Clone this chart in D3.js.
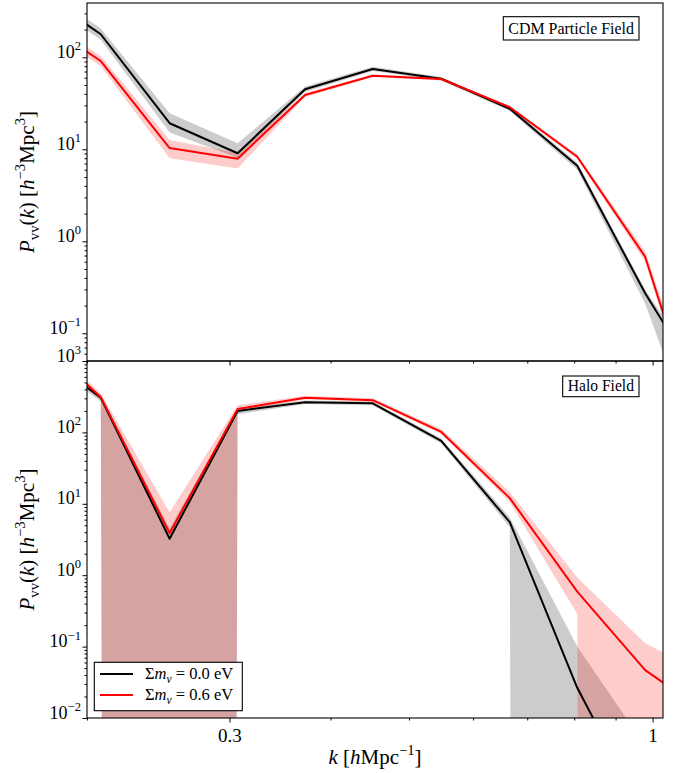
<!DOCTYPE html>
<html>
<head>
<meta charset="utf-8">
<script src="https://cdn.jsdelivr.net/npm/d3@7"></script>
<style>
  body { margin: 0; background: #fff; }
  svg { font-family: "Liberation Serif", "DejaVu Serif", serif; }
</style>
</head>
<body>
<div id="chart"></div>
<script>
// k bins (h/Mpc), shared by both panels
var kVals = [0.171, 0.208, 0.253, 0.307, 0.372, 0.451, 0.548, 0.666, 0.807, 0.979, 1.19];

// CDM particle field
var cdmNu00 = [585, 178, 19.2, 9.06, 44.9, 74.6, 58.5, 27.6, 6.63, 0.272, 0.0169];
var cdmNu00Lo = [510, 155, 15.2, 8.1, 42, 71, 56, 26, 6.0, 0.21, 0.0019];
var cdmNu00Hi = [670, 205, 24.6, 11.6, 48, 79, 61, 29, 7.2, 0.30, 0.023];
var cdmNu06 = [290, 91.1, 10.3, 7.9, 38.9, 63, 58, 28.6, 8.3, 0.68, 0.0032];
var cdmNu06Lo = [250, 80, 8.0, 6.2, 37, 61, 56, 27.5, 7.9, 0.60, 0.0025];
var cdmNu06Hi = [335, 103, 12.6, 9.1, 41, 65, 60, 29.7, 8.8, 0.78, 0.0045];

// halo field (0 = lower error below zero)
var haloNu00 = [1590, 305, 3.24, 200, 265, 255, 76, 5.53, 0.0265, 0.0004, 0.0001];
var haloNu00Lo = [1400, 270, 0, 180, 250, 240, 70, 4.7, 0, 0, 0];
var haloNu00Hi = [1800, 340, 4.5, 215, 280, 270, 82, 6.5, 0.1, 0.0041, 0.001];
var haloNu06 = [2500, 310, 3.88, 212, 305, 283, 101.6, 12.0, 0.589, 0.0468, 0.0102];
var haloNu06Lo = [2200, 280, 0, 195, 290, 270, 95, 10.6, 0.286, 0, 0];
var haloNu06Hi = [2900, 350, 7.6, 240, 325, 300, 112, 14.6, 0.93, 0.111, 0.037];

var xMajor = [0.3, 1];
var xMinor = [0.2, 0.4, 0.5, 0.6, 0.7, 0.8, 0.9];
var legendLabels = ["0.0", "0.6"];
var lineColors = ["#000000", "#ff0000"];
var bandColors = ["rgba(0,0,0,0.2)", "rgba(255,0,0,0.2)"];

var W = 679, H = 773;
var left = 87, right = 663;

var svg = d3.select("#chart").append("svg")
  .attr("width", W).attr("height", H);

var x = d3.scaleLog().domain([0.2, 1.03]).range([left, right]);

function richText(sel, parts, size) {
  var shift = 0;
  parts.forEach(function (p) {
    var target = p.s == "sup" ? -0.42 * size : p.s == "sub" ? 0.22 * size : 0;
    var t = sel.append("tspan").text(p.t).attr("dy", target - shift);
    shift = target;
    if (p.s) t.attr("font-size", 0.7 * size);
    if (p.i) t.attr("font-style", "italic");
  });
}

function minorTicks(domain) {
  var out = [];
  var e0 = Math.floor(Math.log10(domain[0])), e1 = Math.ceil(Math.log10(domain[1]));
  for (var e = e0; e <= e1; e++) {
    for (var m = 2; m <= 9; m++) {
      var v = m * Math.pow(10, e);
      if (v >= domain[0] && v <= domain[1]) out.push(v);
    }
  }
  return out;
}

function drawPanel(id, top, bottom, yDomain, yMajor, series, label, box, xLabels) {
  var y = d3.scaleLog().domain(yDomain).range([bottom, top]);
  var g = svg.append("g");

  svg.append("clipPath").attr("id", id)
    .append("rect").attr("x", left).attr("y", top)
    .attr("width", right - left).attr("height", bottom - top);

  var plot = g.append("g").attr("clip-path", "url(#" + id + ")");

  function ySafe(v) { return v > 0 ? y(v) : y(1e-300); }

  series.forEach(function (s, i) {
    var area = d3.area()
      .x(function (d, j) { return x(kVals[j]); })
      .y0(function (d, j) { return ySafe(s.lo[j]); })
      .y1(function (d, j) { return ySafe(s.hi[j]); });
    plot.append("path").datum(s.val)
      .attr("d", area)
      .attr("fill", bandColors[i]).attr("stroke", "none");
  });

  series.forEach(function (s, i) {
    var line = d3.line()
      .x(function (d, j) { return x(kVals[j]); })
      .y(function (d) { return y(d); });
    plot.append("path").datum(s.val)
      .attr("d", line)
      .attr("fill", "none").attr("stroke", lineColors[i])
      .attr("stroke-width", 2).attr("stroke-linejoin", "round");
  });

  // y axis
  var yAx = g.append("g").attr("transform", "translate(" + left + ",0)")
    .call(d3.axisLeft(y).tickValues(yMajor).tickSize(4.5).tickPadding(1.5));
  yAx.selectAll(".tick text").each(function (d) {
    var t = d3.select(this).text(null)
      .attr("font-size", 18).attr("fill", "#000").attr("font-family", "Liberation Serif");
    richText(t, [{ t: "10" }, { t: String(Math.round(Math.log10(d))).replace("-", "\u2212"), s: "sup" }], 18);
  });
  g.append("g").attr("transform", "translate(" + left + ",0)")
    .call(d3.axisLeft(y).tickValues(minorTicks(yDomain)).tickSize(2.5).tickFormat(""));

  // x axis ticks
  var xAx = g.append("g").attr("transform", "translate(0," + bottom + ")")
    .call(d3.axisBottom(x).tickValues(xMajor).tickSize(4.5).tickPadding(6)
      .tickFormat(function (d) { return xLabels ? String(d) : ""; }));
  xAx.selectAll(".tick text").attr("font-size", 19).attr("fill", "#000")
    .attr("font-family", "Liberation Serif");
  g.append("g").attr("transform", "translate(0," + bottom + ")")
    .call(d3.axisBottom(x).tickValues(xMinor).tickSize(2.5).tickFormat(""));

  g.selectAll(".domain").remove();
  g.selectAll(".tick line").attr("stroke", "#000").attr("stroke-width", 1);

  // frame
  g.append("rect").attr("x", left).attr("y", top)
    .attr("width", right - left).attr("height", bottom - top)
    .attr("fill", "none").attr("stroke", "#000").attr("stroke-width", 1.1);

  // panel label
  g.append("rect").attr("x", box[0]).attr("y", box[1])
    .attr("width", box[2] - box[0]).attr("height", box[3] - box[1])
    .attr("fill", "#fff").attr("stroke", "#000").attr("stroke-width", 1.1);
  g.append("text").attr("x", (box[0] + box[2]) / 2).attr("y", box[3] - 6)
    .attr("text-anchor", "middle").attr("font-size", 16.5)
    .attr("textLength", box[2] - box[0] - 10).attr("lengthAdjust", "spacingAndGlyphs")
    .text(label);

  // y label
  var yl = g.append("text")
    .attr("transform", "translate(34," + ((top + bottom) / 2) + ") rotate(-90)")
    .attr("text-anchor", "middle").attr("font-size", 21);
  richText(yl, [
    { t: "P", i: true }, { t: "vv", s: "sub" }, { t: "(" }, { t: "k", i: true }, { t: ") [" },
    { t: "h", i: true }, { t: "\u22123", s: "sup" }, { t: "Mpc" }, { t: "3", s: "sup" }, { t: "]" }
  ], 21);

  return g;
}

drawPanel("clipTop", 3, 361, [0.05, 389], [0.1, 1, 10, 100], [
  { val: cdmNu00, lo: cdmNu00Lo, hi: cdmNu00Hi },
  { val: cdmNu06, lo: cdmNu06Lo, hi: cdmNu06Hi }
], "CDM Particle Field", [503.3, 16.7, 639, 40], false);

drawPanel("clipBot", 361, 718, [0.01, 1000], [0.01, 0.1, 1, 10, 100, 1000], [
  { val: haloNu00, lo: haloNu00Lo, hi: haloNu00Hi },
  { val: haloNu06, lo: haloNu06Lo, hi: haloNu06Hi }
], "Halo Field", [562.7, 376, 639, 396.7], true);

// legend
var leg = svg.append("g");
leg.append("rect").attr("x", 94.3).attr("y", 662.3).attr("width", 148).attr("height", 48.4)
  .attr("fill", "#fff").attr("stroke", "#000").attr("stroke-width", 1.1);
legendLabels.forEach(function (lab, i) {
  var yy = 674 + i * 21;
  leg.append("line").attr("x1", 100).attr("x2", 133).attr("y1", yy).attr("y2", yy)
    .attr("stroke", lineColors[i]).attr("stroke-width", 2);
  var t = leg.append("text").attr("x", 145).attr("y", yy + 5).attr("font-size", 16.5);
  richText(t, [{ t: "\u03A3" }, { t: "m", i: true }, { t: "\u03BD", i: true, s: "sub" },
    { t: " = " + lab + " eV" }], 16.5);
});

// x label
var xl = svg.append("text").attr("x", (left + right) / 2).attr("y", 764)
  .attr("text-anchor", "middle").attr("font-size", 21);
richText(xl, [{ t: "k", i: true }, { t: " [" }, { t: "h", i: true }, { t: "Mpc" },
  { t: "\u22121", s: "sup" }, { t: "]" }], 21);
</script>
</body>
</html>
